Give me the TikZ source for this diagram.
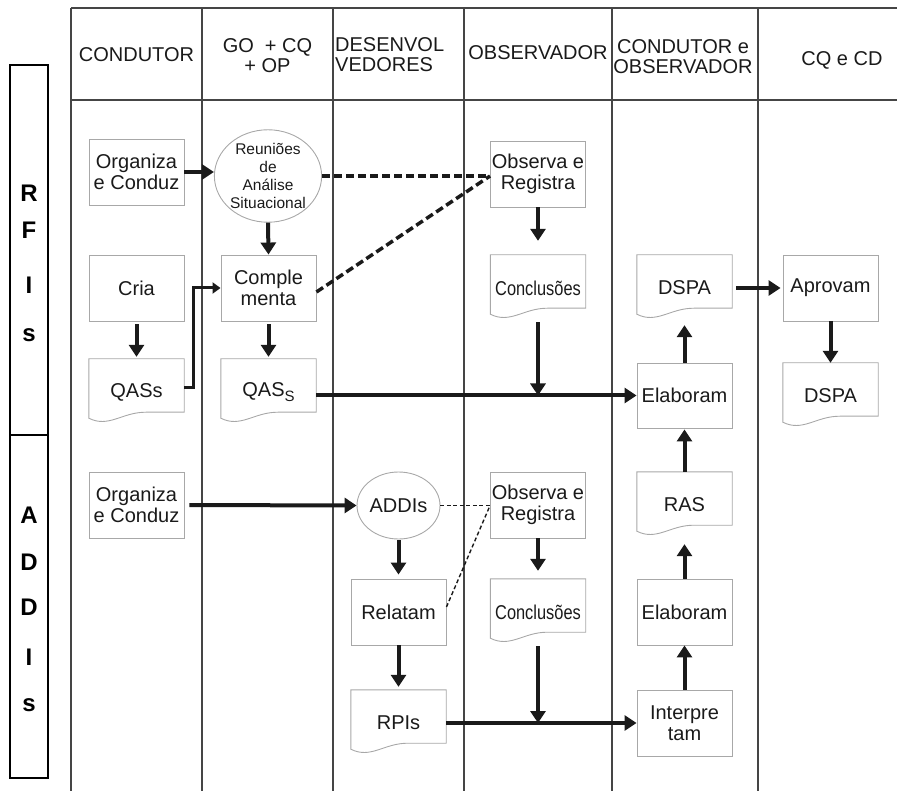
\documentclass[tikz,border=0pt]{standalone}
\usepackage{fontspec}
\setmainfont{Liberation Sans}
\usetikzlibrary{arrows.meta,shapes.geometric,calc}
\definecolor{ink}{HTML}{1A1A1A}
\definecolor{rulecol}{HTML}{454545}
\definecolor{boxgray}{HTML}{A8A8A8}
\newcommand\bodyfont{\fontsize{20}{21}\selectfont}
\newcommand\headfont{\fontsize{20}{20}\selectfont}
% document symbol: flat top, wavy bottom edge
\newcommand\docoutline[1]{%
  \draw[boxline] (#1.north west) -- (#1.north east)
    -- ($(#1.south east)+(0,13pt)$)
    -- ($(#1.south west)+(57pt,13pt)$)
    .. controls ($(#1.south west)+(33pt,13pt)$) and ($(#1.south west)+(20pt,-3pt)$)
    .. ($(#1.south west)+(0,7pt)$) -- cycle;}
\begin{document}
\begin{tikzpicture}[x=1pt,y=-1pt,
  boxline/.style={draw=boxgray,line width=0.9pt},
  stepbox/.style={boxline,minimum width=95pt,minimum height=66pt,inner sep=0pt,
    align=center,font=\bodyfont,text=ink},
  docnode/.style={minimum width=95pt,minimum height=66pt,inner sep=0pt,
    align=center,font=\bodyfont,text=ink},
  oval/.style={ellipse,boxline,inner sep=0pt,align=center,text=ink},
  lane/.style={draw=rulecol,line width=2pt},
  headtext/.style={font=\headfont,text=ink,align=center,inner sep=0pt},
  sidetext/.style={font=\fontsize{24}{24}\selectfont\bfseries,text=black,inner sep=0pt},
  flow/.style={draw=ink,line width=4pt,-{Triangle[length=12pt,width=15pt]}},
  feed/.style={draw=ink,line width=3pt,-{Triangle[length=8pt,width=11pt]}},
  link/.style={draw=ink,line width=3.5pt,dash pattern=on 8pt off 4pt},
  thinlink/.style={draw=ink,line width=1.4pt,dash pattern=on 4pt off 2.5pt},
]
\useasboundingbox (0,0) rectangle (897,791);

% swimlane grid
\draw[lane] (71,8) -- (897,8);
\draw[lane] (71,100) -- (897,100);
\foreach \lx in {71,202,333,464,612,758}
  \draw[lane] (\lx,8) -- (\lx,791);

% phase labels on the left
\draw[draw=black,line width=2pt] (10,65) rectangle (48,778);
\draw[draw=black,line width=2pt] (10,435) -- (48,435);
\node[sidetext] (lR) at (29,193) {R};
\node[sidetext] (lF) at (29,230) {F};
\node[sidetext] (lI) at (29,285) {I};
\node[sidetext] (ls) at (29,335) {s};
\node[sidetext] (lA) at (29,515) {A};
\node[sidetext] (lD) at (29,562) {D};
\node[sidetext] (lD2) at (29,607) {D};
\node[sidetext] (lI2) at (29,657) {I};
\node[sidetext] (ls2) at (29,705) {s};

% lane headings
\node[headtext] (h1) at (136.5,55) {CONDUTOR};
\node[headtext] (h2) at (267.5,56) {GO\ \ + CQ\\+ OP};
\node[headtext,anchor=west,align=left] (h3) at (335,55) {DESENVOL\\VEDORES};
\node[headtext] (h4) at (538,53) {OBSERVADOR};
\node[headtext] (h5) at (683,57) {CONDUTOR e\\OBSERVADOR};
\node[headtext] (h6) at (842,60) {CQ e CD};

% upper phase
\node[stepbox] (org1) at (136.5,172) {Organiza\\e Conduz};
\node[oval,minimum width=105pt,minimum height=89pt,font=\fontsize{15.5}{18}\selectfont]
  (reun) at (268,176) {Reuniões\\de\\Análise\\Situacional};
\node[stepbox] (obs1) at (538,174) {Observa e\\Registra};
\node[stepbox] (cria) at (136.5,288) {Cria};
\node[stepbox] (comp) at (268.5,288) {Comple\\menta};
\node[docnode] (concl1) at (538,288) {\scalebox{0.82}[1]{Conclusões}};
\node[docnode] (dspa1) at (684.5,288) {DSPA};
\node[stepbox] (aprov) at (830.5,288) {Aprovam};
\node[docnode] (qass1) at (136.5,392) {QASs};
\node[docnode] (qass2) at (268.5,392) {QAS\raisebox{-5pt}{\fontsize{15}{15}\selectfont S}};
\node[stepbox,minimum height=65pt] (elab1) at (684.5,395.5) {Elaboram};
\node[docnode] (dspa2) at (830.5,396) {DSPA};

% lower phase
\node[stepbox] (org2) at (136.5,505) {Organiza\\e Conduz};
\node[oval,minimum width=83pt,minimum height=67pt,font=\bodyfont] (addis) at (398.5,505.5) {ADDIs};
\node[stepbox] (obs2) at (538,505) {Observa e\\Registra};
\node[docnode] (ras) at (684.5,505) {RAS};
\node[stepbox] (relat) at (398.5,612) {Relatam};
\node[docnode] (concl2) at (538,612) {\scalebox{0.82}[1]{Conclusões}};
\node[stepbox] (elab2) at (684.5,612) {Elaboram};
\node[docnode] (rpis) at (398.5,723) {RPIs};
\node[stepbox] (interp) at (684.5,723) {Interpre\\tam};

\foreach \d in {concl1,dspa1,qass1,qass2,dspa2,ras,concl2,rpis}
  \docoutline{\d};

% dashed observation links
\draw[link] (reun.east) -- (reun.east -| obs1.west);
\draw[link] ($(comp.east)+(0,-4pt)$) -- (reun.east -| obs1.west);
\draw[thinlink] (addis.east) -- (addis.east -| obs2.west);
\draw[thinlink] ($(relat.east)+(0,5pt)$) -- (addis.east -| obs2.west);

% upper flow
\draw[flow] (org1.east) -- (org1.east -| reun.west);
\draw[flow] (reun.south) -- (comp.north);
\draw[flow,shorten <=3pt,shorten >=2pt] (cria.south) -- (qass1.north);
\draw[feed] ($(qass1.east)+(0,4pt)$) -- ++(9pt,0) |- (comp.west);
\draw[flow,shorten <=3pt,shorten >=2pt] (comp.south) -- (qass2.north);
\draw[flow] (qass2.east |- elab1.west) -- (elab1.west);
\draw[flow,shorten >=14pt] (obs1.south) -- (concl1.north);
\draw[flow,shorten <=1pt] (concl1.south) -- (concl1.south |- elab1.west);
\draw[flow,shorten >=4pt] (elab1.north) -- (dspa1.south);
\draw[flow,shorten <=4pt,shorten >=2pt] (dspa1.east) -- (aprov.west);
\draw[flow] (aprov.south) -- (dspa2.north);
\draw[flow,shorten >=1pt] (ras.north) -- (elab1.south);

% lower flow
\draw[flow,shorten <=5pt] (org2.east) -- (addis.west);
\draw[flow,shorten <=1pt,shorten >=4pt] (addis.south) -- (relat.north);
\draw[flow,shorten >=3pt] (relat.south) -- (rpis.north);
\draw[flow,shorten >=8pt] (obs2.south) -- (concl2.north);
\draw[flow,shorten <=1pt] (concl2.south) -- (concl2.south |- interp.west);
\draw[flow] (rpis.east |- interp.west) -- (interp.west);
\draw[flow] (interp.north) -- (elab2.south);
\draw[flow,shorten >=6pt] (elab2.north) -- (ras.south);
\end{tikzpicture}
\end{document}
